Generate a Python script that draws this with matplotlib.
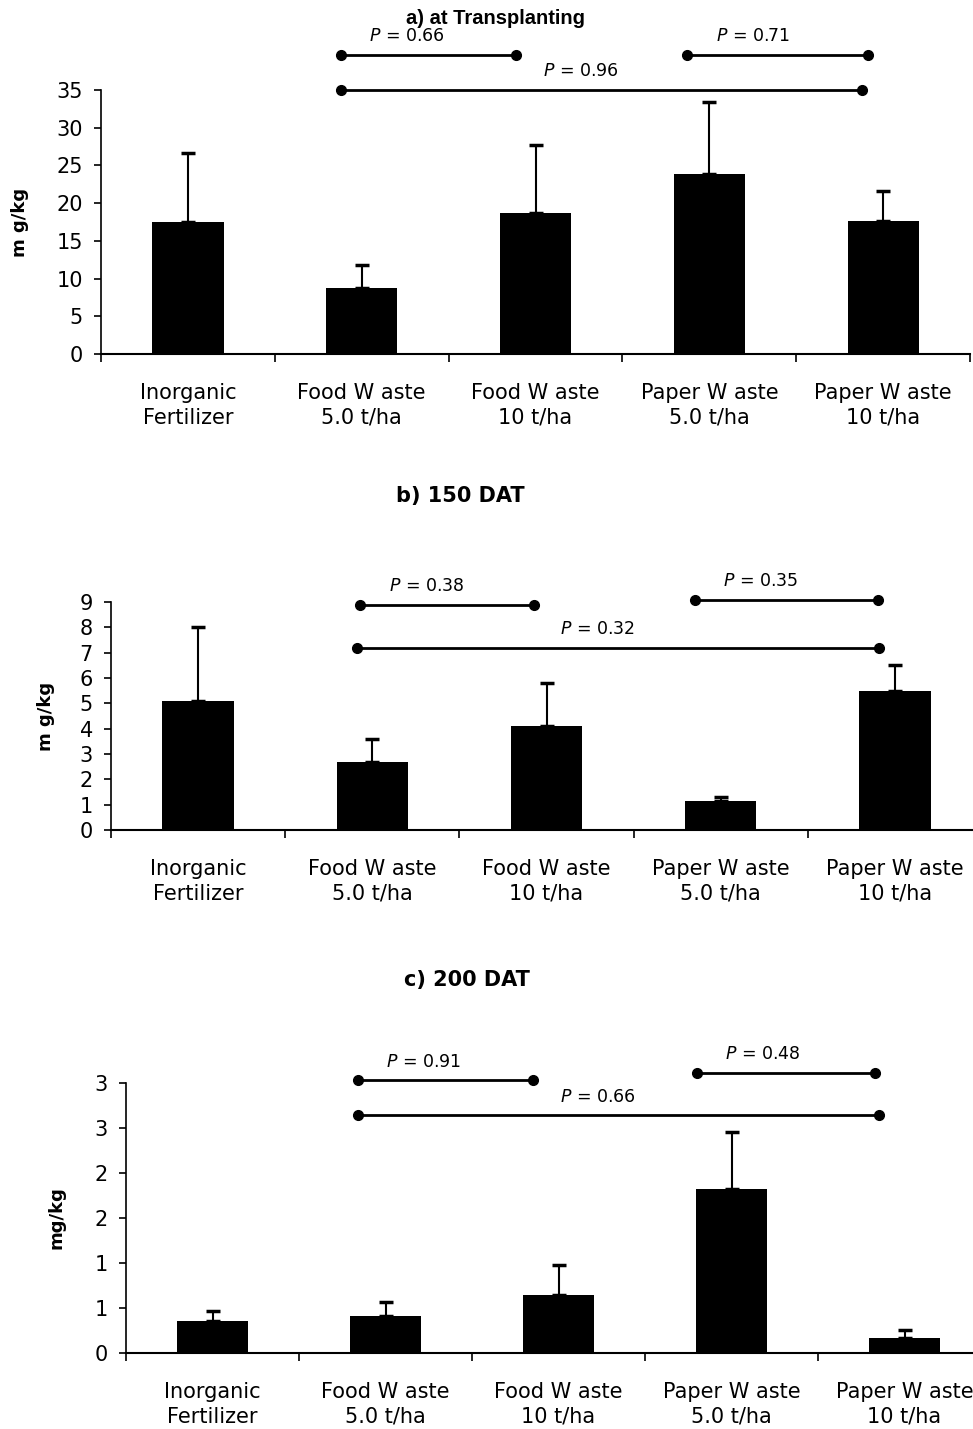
import numpy as np
import matplotlib
matplotlib.use("Agg")
import matplotlib.pyplot as plt

plt.rcParams['font.family'] = ['DejaVu Sans']
plt.rcParams['mathtext.fontset'] = 'dejavusans'

# categories (x axis)
categories = ["Inorganic\nFertilizer", "Food W aste\n5.0 t/ha", "Food W aste\n10 t/ha",
              "Paper W aste\n5.0 t/ha", "Paper W aste\n10 t/ha"]

# a) at transplanting
mean_a = [17.5, 8.7, 18.7, 23.9, 17.6]
err_a = [9.1, 3.1, 9.0, 9.5, 4.0]
# b) 150 DAT
mean_b = [5.1, 2.7, 4.1, 1.15, 5.5]
err_b = [2.9, 0.9, 1.7, 0.15, 1.0]
# c) 200 DAT
mean_c = [0.36, 0.41, 0.64, 1.82, 0.17]
err_c = [0.11, 0.16, 0.34, 0.64, 0.09]

# brackets: (x start, x end, y, P value)
brackets_a = [(0.88, 1.89, 39.7, "0.66"), (2.87, 3.91, 39.7, "0.71"), (0.88, 3.88, 35.0, "0.96")]
brackets_b = [(0.93, 1.93, 8.9, "0.38"), (2.85, 3.90, 9.1, "0.35"), (0.91, 3.91, 7.2, "0.32")]
brackets_c = [(0.84, 1.85, 3.03, "0.91"), (2.80, 3.83, 3.11, "0.48"), (0.84, 3.85, 2.64, "0.66")]

yticks_a = [0, 5, 10, 15, 20, 25, 30, 35]
yticks_b = [0, 1, 2, 3, 4, 5, 6, 7, 8, 9]
yticks_c = [0, 0.5, 1.0, 1.5, 2.0, 2.5, 3.0]
yticklabels_c = ["0", "1", "1", "2", "2", "3", "3"]

fig = plt.figure(figsize=(9.73, 14.29), dpi=100)

panels = [
    # rect, title, title xy (fig px), title font, means, errs, brackets, ylim, yticks, labels, ylabel, ylabel x
    ([0.1038, 0.7523, 0.8932, 0.1847], "a) at Transplanting", (495, 18), ('Liberation Sans', 14.5),
     mean_a, err_a, brackets_a, 35, yticks_a, None, "m g/kg", -0.083),
    ([0.1141, 0.4192, 0.8952, 0.1595], "b) 150 DAT", (460, 496), ('DejaVu Sans', 15),
     mean_b, err_b, brackets_b, 9, yticks_b, None, "m g/kg", -0.064),
    ([0.1295, 0.0532, 0.8890, 0.1889], "c) 200 DAT", (467, 980), ('DejaVu Sans', 15),
     mean_c, err_c, brackets_c, 3, yticks_c, yticklabels_c, "mg/kg", -0.07),
]

x = np.arange(len(categories))
for rect, title, tpos, tfont, means, errs, brackets, ymax, yt, ytl, ylab, ylx in panels:
    ax = fig.add_axes(rect)
    ax.bar(x, means, width=0.41, color='black', zorder=2)
    ax.errorbar(x, means, yerr=[np.zeros(len(errs)), errs], fmt='none', ecolor='black',
                elinewidth=1.5, capsize=5, capthick=2.5, zorder=1)
    ax.set_xlim(-0.5, 4.5)
    ax.set_ylim(0, ymax)
    ax.spines['top'].set_visible(False)
    ax.spines['right'].set_visible(False)
    ax.spines['left'].set_linewidth(1.2)
    ax.spines['bottom'].set_linewidth(1.5)
    ax.set_yticks(yt)
    if ytl is not None:
        ax.set_yticklabels(ytl)
    ax.tick_params(axis='y', direction='out', length=5, width=1.2, labelsize=15, pad=8)
    ax.set_xticks(np.arange(-0.5, 5.0, 1.0))
    ax.set_xticklabels([])
    ax.set_xticks(x, minor=True)
    ax.set_xticklabels(categories, minor=True, fontsize=15, linespacing=1.3)
    ax.tick_params(axis='x', which='major', direction='out', length=6, width=1.2)
    ax.tick_params(axis='x', which='minor', length=0, pad=21)
    ax.set_ylabel(ylab, fontsize=13, fontweight='bold')
    ax.yaxis.set_label_coords(ylx, 0.5)
    for x0, x1, yb, p in brackets:
        ax.plot([x0, x1], [yb, yb], color='black', lw=2, marker='o', markersize=7,
                clip_on=False, zorder=3)
        tx = (x0 + x1) / 2 - 0.12 if x1 - x0 > 2 else x0 + 0.38
        ax.annotate("$P$ = " + p, (tx, yb), xytext=(0, 7), textcoords='offset points',
                    ha='center', va='bottom', fontsize=12.5, annotation_clip=False)
    fig.text(tpos[0] / 973, 1 - tpos[1] / 1429, title, ha='center', va='center',
             fontsize=tfont[1], fontweight='bold', family=tfont[0])

fig.savefig("out.png", dpi=100)
